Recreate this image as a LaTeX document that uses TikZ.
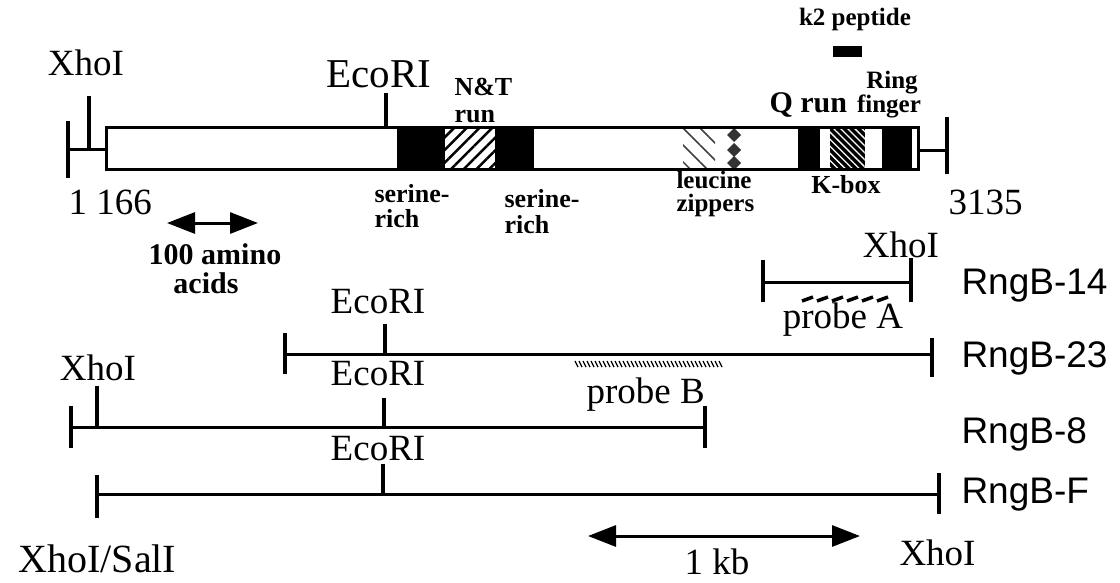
\documentclass[tikz,border=0pt]{standalone}
\usepackage{fontspec}
\setmainfont{Liberation Serif}
\newfontfamily\helv{Liberation Sans}
\usetikzlibrary{patterns.meta,arrows.meta}
\begin{document}
\begin{tikzpicture}[x=1pt,y=-1pt,line width=3pt,
 lbl/.style={font=\fontsize{37}{40}\selectfont, inner sep=0pt, anchor=base},
 lblw/.style={font=\fontsize{37}{40}\selectfont, inner sep=0pt, anchor=base west},
 blbl/.style={font=\fontsize{26}{28}\selectfont\bfseries, inner sep=0pt, anchor=base west},
 bclbl/.style={font=\fontsize{26}{28}\selectfont\bfseries, inner sep=0pt, anchor=base},
 clone/.style={font=\helv\fontsize{37}{40}\selectfont, inner sep=0pt, anchor=base west},
 tickline/.style={line width=4.5pt},
 dbl/.style={line width=3pt, {Triangle[length=28pt,width=21pt]}-{Triangle[length=28pt,width=21pt]}},
 darkseg/.style={fill=black, draw=none},
]
\useasboundingbox (0,0) rectangle (1120,582);

% ---------- main bar ----------
\coordinate (L0) at (68,149); \coordinate (B0) at (106,149);
\coordinate (lt1) at (68,121); \coordinate (lt2) at (68,178);
\coordinate (xt1) at (89,96);  \coordinate (xt2) at (89,149);
\coordinate (et1) at (386,93); \coordinate (et2) at (386,127);
\coordinate (R0) at (918,150); \coordinate (R1) at (947,150);
\coordinate (rt1) at (947,117); \coordinate (rt2) at (947,174);

\fill[darkseg] (397,127) rectangle (445,169);
\fill[pattern={Lines[angle=45,distance=9pt,line width=2.5pt]}] (445,129) rectangle (495,167);
\fill[darkseg] (495,127) rectangle (534,169);
\fill[pattern={Lines[angle=-45,distance=12pt,line width=1.5pt]},pattern color=black!75] (683,129) rectangle (715,167);
\foreach \yy/\nm in {135/da,150/db,163/dc}{
  \fill[black!80] (727,\yy) -- (734,\yy-7) -- (741,\yy) -- (734,\yy+7) -- cycle;
}
\fill[darkseg] (798,127) rectangle (820,169);
\fill[black] (830,127) rectangle (865,169);
\fill[pattern={Lines[angle=-45,distance=5pt,line width=1.3pt]},pattern color=white] (830,127) rectangle (865,169);
\fill[darkseg] (882,127) rectangle (912,169);

\node[draw, line width=3pt, minimum width=812pt, minimum height=42pt, inner sep=0pt, outer sep=0pt, anchor=north west] (box) at (106,127) {};

\draw (L0) -- (B0);
\draw[tickline] (lt1) -- (lt2);
\draw[tickline] (xt1) -- (xt2);
\draw[tickline] (et1) -- (et2);
\draw (R0) -- (R1);
\draw[tickline] (rt1) -- (rt2);

\fill[black] (833,46) rectangle (862,57);

% ---------- top labels ----------
\node[lbl] (xhoTop) at (86,75) {XhoI};
\node[lbl, font=\fontsize{41}{44}\selectfont] (ecoTop) at (379,87) {EcoRI};
\node[blbl] (nt1) at (453,95) {N\&T};
\node[blbl] (nt2) at (453,122) {run};
\node[blbl] (s1a) at (373,202) {serine-};
\node[blbl] (s1b) at (373,227) {rich};
\node[blbl] (s2a) at (503,207) {serine-};
\node[blbl] (s2b) at (503,233) {rich};
\node[blbl, font=\fontsize{25}{27}\selectfont\bfseries] (lz1) at (675,188) {leucine};
\node[blbl, font=\fontsize{25}{27}\selectfont\bfseries] (lz2) at (675,211) {zippers};
\node[bclbl] (kbox) at (846,193) {K-box};
\node[font=\fontsize{30}{32}\selectfont\bfseries, inner sep=0pt, anchor=base west] (qrun) at (768,112) {Q run};
\node[font=\fontsize{25}{27}\selectfont\bfseries, inner sep=0pt, anchor=base] (ring1) at (892,88) {Ring};
\node[font=\fontsize{25}{27}\selectfont\bfseries, inner sep=0pt, anchor=base] (ring2) at (889,112) {finger};
\node[font=\fontsize{25}{27}\selectfont\bfseries, inner sep=0pt, anchor=base] (k2) at (855,25) {k2 peptide};
\node[lblw] (n1) at (67,214) {1 166};
\node[lblw] (n3135) at (947,214) {3135};

% 100 amino acids
\coordinate (aa1) at (167,223); \coordinate (aa2) at (258,223);
\draw[dbl] (aa1) -- (aa2);
\node[font=\fontsize{30}{32}\selectfont\bfseries, inner sep=0pt, anchor=base] (aa100) at (215,264) {100 amino};
\node[font=\fontsize{30}{32}\selectfont\bfseries, inner sep=0pt, anchor=base] (aacid) at (206,293) {acids};

% ---------- RngB-14 ----------
\coordinate (a1) at (763,282); \coordinate (a2) at (911,282);
\coordinate (a1t) at (763,260); \coordinate (a1b) at (763,302);
\coordinate (a2t) at (911,258); \coordinate (a2b) at (911,302);
\draw (a1) -- (a2);
\draw[tickline] (a1t) -- (a1b);
\draw[tickline] (a2t) -- (a2b);
\node[lbl] (xho14) at (901,257) {XhoI};
\foreach \xx in {802,817,832,847,862,877}{
  \draw[line width=3.5pt] (\xx,301) -- (\xx+11,297);
}
\node[lbl] (probeA) at (843,328) {probe A};
\node[clone] (r14) at (960,294) {RngB-14};

% ---------- RngB-23 ----------
\coordinate (b1) at (285,354); \coordinate (b2) at (932,354);
\coordinate (b1t) at (285,333); \coordinate (b1b) at (285,374);
\coordinate (b2t) at (932,338); \coordinate (b2b) at (932,377);
\coordinate (be1) at (385,324); \coordinate (be2) at (385,354);
\draw (b1) -- (b2);
\draw[tickline] (b1t) -- (b1b);
\draw[tickline] (b2t) -- (b2b);
\draw[tickline] (be1) -- (be2);
\node[lbl] (eco23) at (378,313) {EcoRI};
\foreach \xx in {575,579,...,719}{
  \draw[line width=1.2pt] (\xx,361) -- (\xx+3,367);
}
\node[lblw] (probeB) at (585,403) {probe B};
\node[clone] (r23) at (960,367) {RngB-23};

% ---------- RngB-8 ----------
\coordinate (c1) at (71,427); \coordinate (c2) at (705,427);
\coordinate (c1t) at (71,406); \coordinate (c1b) at (71,448);
\coordinate (c2t) at (705,406); \coordinate (c2b) at (705,448);
\coordinate (cx1) at (97,386); \coordinate (cx2) at (97,427);
\coordinate (ce1) at (384,398); \coordinate (ce2) at (384,427);
\draw (c1) -- (c2);
\draw[tickline] (c1t) -- (c1b);
\draw[tickline] (c2t) -- (c2b);
\draw[tickline] (cx1) -- (cx2);
\draw[tickline] (ce1) -- (ce2);
\node[lbl] (xho8) at (98,380) {XhoI};
\node[lbl] (eco8) at (378,385) {EcoRI};
\node[clone] (r8) at (960,443) {RngB-8};

% ---------- RngB-F ----------
\coordinate (d1) at (97,494); \coordinate (d2) at (939,494);
\coordinate (d1t) at (97,475); \coordinate (d1b) at (97,518);
\coordinate (d2t) at (939,473); \coordinate (d2b) at (939,514);
\coordinate (de1) at (383,464); \coordinate (de2) at (383,494);
\draw (d1) -- (d2);
\draw[tickline] (d1t) -- (d1b);
\draw[tickline] (d2t) -- (d2b);
\draw[tickline] (de1) -- (de2);
\node[lbl] (ecoF) at (378,460) {EcoRI};
\node[clone] (rF) at (960,503) {RngB-F};

\node[lblw, font=\fontsize{40}{42}\selectfont] (xs) at (17,572) {XhoI/SalI};
\node[lblw] (xhoF) at (898,565) {XhoI};

% 1 kb
\coordinate (k1) at (588,536); \coordinate (k2a) at (860,536);
\draw[dbl] (k1) -- (k2a);
\node[lbl] (kb) at (717,574) {1 kb};
\end{tikzpicture}
\end{document}
